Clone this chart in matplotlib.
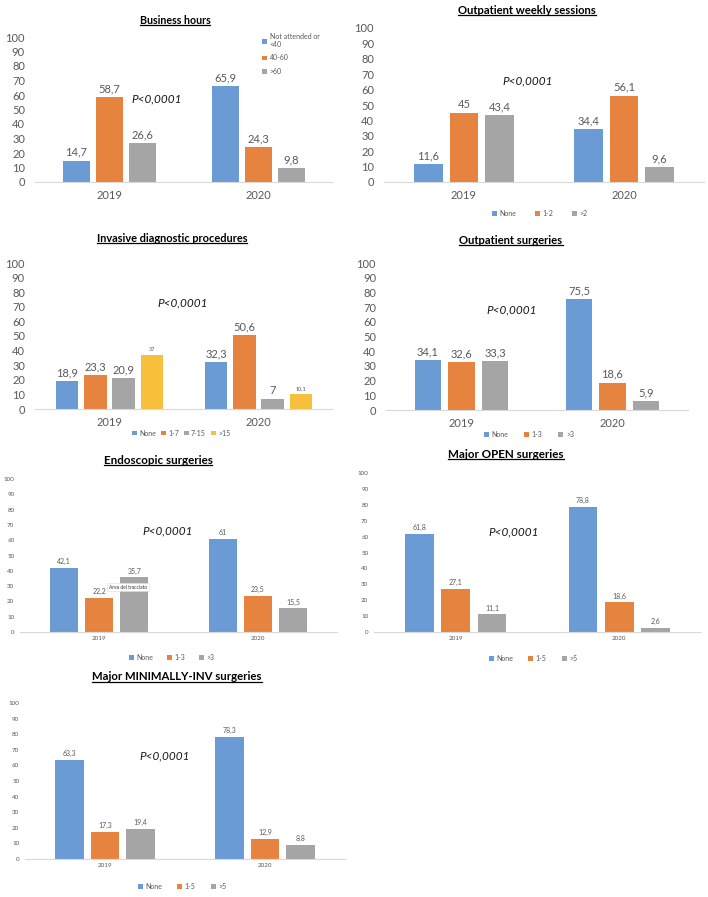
import matplotlib
matplotlib.use("Agg")
import matplotlib.pyplot as plt
from matplotlib.lines import Line2D
import numpy as np

W, H = 708, 897
plt.rcParams['font.family'] = ['Lato', 'DejaVu Sans']

years = ["2019", "2020"]

# ---- data (series values listed as [2019, 2020]) ----
bh_cats = ["Not attended or\n<40", "40-60", ">60"]
bh_vals = [[14.7, 65.9], [58.7, 24.3], [26.6, 9.8]]

ows_cats = ["None", "1-2", ">2"]
ows_vals = [[11.6, 34.4], [45, 56.1], [43.4, 9.6]]

idp_cats = ["None", "1-7", "7-15", ">15"]
idp_vals = [[18.9, 32.3], [23.3, 50.6], [20.9, 7], [37, 10.1]]

os_cats = ["None", "1-3", ">3"]
os_vals = [[34.1, 75.5], [32.6, 18.6], [33.3, 5.9]]

es_cats = ["None", "1-3", ">3"]
es_vals = [[42.1, 61], [22.2, 23.5], [35.7, 15.5]]

mo_cats = ["None", "1-5", ">5"]
mo_vals = [[61.8, 78.8], [27.1, 18.6], [11.1, 2.6]]

mi_cats = ["None", "1-5", ">5"]
mi_vals = [[63.3, 78.3], [17.3, 12.9], [19.4, 8.8]]

titles = ["Business hours", "Outpatient weekly sessions", "Invasive diagnostic procedures",
          "Outpatient surgeries", "Endoscopic surgeries", "Major OPEN surgeries",
          "Major MINIMALLY-INV surgeries"]
pval_text = "P<0,0001"

colors = ["#6A9BD4", "#E6833F", "#A5A5A5", "#F6BF3C"]
TXT = "#595959"

fig = plt.figure(figsize=(W / 100, H / 100), dpi=100)
fig.patch.set_facecolor("white")


def fmt(v):
    return f"{v:g}".replace(".", ",")


underline_titles = []


def panel(box, cats, vals, title, title_xy, title_fs, p_xy, tick_fs, lab_fs,
          leg, leg_fs, xpad, colsp=2.6, small_series=None):
    l, t, r, b = box
    ax = fig.add_axes([l / W, 1 - b / H, (r - l) / W, (b - t) / H])
    n = len(cats)
    if n == 4:
        step, width = 0.19, 0.15
    else:
        step, width = 0.222, 0.176
    x = np.arange(len(years))
    for i, (c, v) in enumerate(zip(cats, vals)):
        off = (i - (n - 1) / 2) * step
        bars = ax.bar(x + off, v, width, color=colors[i], label=c, zorder=2)
        fs = lab_fs * 0.5 if small_series == i else lab_fs
        ax.bar_label(bars, labels=[fmt(vv) for vv in v], padding=2,
                     fontsize=fs, color=TXT)
    ax.set_xlim(-0.5, 1.5)
    ax.set_ylim(0, 100)
    ax.set_yticks(range(0, 101, 10))
    ax.set_xticks(x)
    ax.set_xticklabels(years)
    ax.tick_params(axis="both", length=0, labelsize=tick_fs, colors=TXT)
    ax.tick_params(axis="y", pad=tick_fs * 0.9)
    ax.tick_params(axis="x", pad=xpad)
    for s in ["top", "right", "left"]:
        ax.spines[s].set_visible(False)
    ax.spines["bottom"].set_color("#D9D9D9")
    ax.spines["bottom"].set_linewidth(0.8)
    ax.set_facecolor("none")
    # p value text
    ax.text(p_xy[0] / W, 1 - p_xy[1] / H, pval_text, transform=fig.transFigure,
            ha="center", va="center", style="italic", fontsize=8.5, color="#1a1a1a")
    # title
    tt = fig.text(title_xy[0] / W, 1 - title_xy[1] / H, title, ha="center", va="center",
                  fontweight="bold", fontsize=title_fs, color="black")
    underline_titles.append(tt)
    # legend
    if leg is not None:
        lx, ly, mode = leg
        if mode == "h":
            ax.legend(loc="center", bbox_to_anchor=(lx / W, 1 - ly / H),
                      bbox_transform=fig.transFigure, ncol=n, frameon=False,
                      fontsize=leg_fs, handlelength=0.7, handleheight=0.7,
                      handletextpad=0.35, columnspacing=colsp, labelcolor=TXT)
        else:
            ax.legend(loc="upper left", bbox_to_anchor=(lx / W, 1 - ly / H),
                      bbox_transform=fig.transFigure, ncol=1, frameon=False,
                      fontsize=leg_fs, handlelength=0.7, handleheight=0.7,
                      handletextpad=0.4, labelspacing=0.9, labelcolor=TXT,
                      borderaxespad=0, borderpad=0)
    return ax


panel((35, 37, 333, 182), bh_cats, bh_vals, titles[0], (175, 20), 7.7, (157, 99),
      8, 8, (262, 33, "v"), 5, 5.5)
panel((384, 28, 704, 182), ows_cats, ows_vals, titles[1], (527, 10), 8.1, (528, 81),
      8, 8, (540, 213, "h"), 5, 5.5, colsp=2.7)
panel((35, 263, 333, 409), idp_cats, idp_vals, titles[2], (172, 238), 7.9, (183, 303),
      8, 8, (181, 433, "h"), 5, 5.5, colsp=0.7, small_series=3)
panel((386, 263, 688, 410), os_cats, os_vals, titles[3], (511, 240), 8.1, (512, 310),
      8, 8, (529, 434, "h"), 5, 5.5, colsp=2.3)
panel((20, 479, 337, 632), es_cats, es_vals, titles[4], (158, 460), 8.4, (168, 531),
      4.5, 5, (172, 657, "h"), 5, 3, colsp=2.0)
panel((374, 473, 701, 632), mo_cats, mo_vals, titles[5], (506, 454), 8.4, (514, 532),
      4.5, 5, (533, 658, "h"), 5, 3, colsp=2.2)
panel((25, 703, 345, 859), mi_cats, mi_vals, titles[6], (177, 677), 8.2, (165, 756),
      4.5, 5, (182, 886, "h"), 5, 3, colsp=2.2)

# tooltip seen in the Endoscopic panel
fig.text(128 / W, 1 - 587 / H, "Area del tracciato", ha="center", va="center",
         fontsize=3.5, color="#333333",
         bbox=dict(boxstyle="square,pad=0.3", fc="white", ec="#DDDDDD", lw=0.4))

# underline titles
fig.canvas.draw()
r = fig.canvas.get_renderer()
for tt in underline_titles:
    bb = tt.get_window_extent(renderer=r)
    y = bb.y0 + 0.5
    fig.add_artist(Line2D([bb.x0 / W, bb.x1 / W], [y / H, y / H],
                          transform=fig.transFigure, color="black", lw=0.9))

fig.savefig("out.png", dpi=100, facecolor="white")
